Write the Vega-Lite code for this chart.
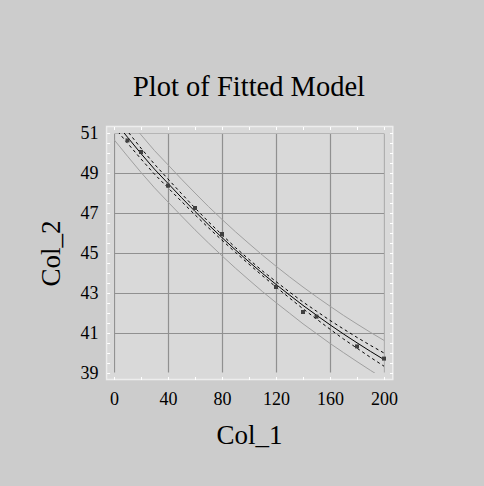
{
  "$schema": "https://vega.github.io/schema/vega-lite/v6.json",
  "width": 270,
  "height": 240,
  "autosize": {"type": "none"},
  "padding": {"left": 114, "top": 133, "right": 100, "bottom": 113},
  "background": "#cccccc",
  "view": {"fill": "#d9d9d9", "stroke": null},
  "title": {"text": "Plot of Fitted Model", "font": "Liberation Serif", "fontSize": 28.5, "fontWeight": "normal", "color": "#000000", "anchor": "middle", "frame": "group", "baseline": "alphabetic", "offset": 0},
  "datasets": {
    "curve": [
      {"x": 0, "fit": 51.63, "lcl": 51.30, "ucl": 51.96, "lpl": 50.67, "upl": 52.59},
      {"x": 10, "fit": 50.79, "lcl": 50.49, "ucl": 51.09, "lpl": 49.84, "upl": 51.74},
      {"x": 20, "fit": 49.97, "lcl": 49.70, "ucl": 50.24, "lpl": 49.03, "upl": 50.91},
      {"x": 30, "fit": 49.19, "lcl": 48.94, "ucl": 49.44, "lpl": 48.26, "upl": 50.12},
      {"x": 40, "fit": 48.48, "lcl": 48.26, "ucl": 48.70, "lpl": 47.55, "upl": 49.41},
      {"x": 50, "fit": 47.77, "lcl": 47.58, "ucl": 47.97, "lpl": 46.85, "upl": 48.69},
      {"x": 60, "fit": 47.08, "lcl": 46.91, "ucl": 47.25, "lpl": 46.16, "upl": 48.00},
      {"x": 70, "fit": 46.41, "lcl": 46.26, "ucl": 46.56, "lpl": 45.50, "upl": 47.32},
      {"x": 80, "fit": 45.77, "lcl": 45.64, "ucl": 45.91, "lpl": 44.86, "upl": 46.68},
      {"x": 90, "fit": 45.15, "lcl": 45.03, "ucl": 45.27, "lpl": 44.24, "upl": 46.06},
      {"x": 100, "fit": 44.56, "lcl": 44.44, "ucl": 44.68, "lpl": 43.65, "upl": 45.47},
      {"x": 110, "fit": 43.98, "lcl": 43.86, "ucl": 44.10, "lpl": 43.07, "upl": 44.89},
      {"x": 120, "fit": 43.43, "lcl": 43.30, "ucl": 43.57, "lpl": 42.52, "upl": 44.34},
      {"x": 130, "fit": 42.90, "lcl": 42.75, "ucl": 43.05, "lpl": 41.99, "upl": 43.81},
      {"x": 140, "fit": 42.38, "lcl": 42.21, "ucl": 42.55, "lpl": 41.46, "upl": 43.30},
      {"x": 150, "fit": 41.89, "lcl": 41.70, "ucl": 42.09, "lpl": 40.97, "upl": 42.81},
      {"x": 160, "fit": 41.41, "lcl": 41.19, "ucl": 41.63, "lpl": 40.48, "upl": 42.34},
      {"x": 170, "fit": 40.95, "lcl": 40.70, "ucl": 41.20, "lpl": 40.02, "upl": 41.88},
      {"x": 180, "fit": 40.51, "lcl": 40.24, "ucl": 40.78, "lpl": 39.57, "upl": 41.45},
      {"x": 190, "fit": 40.08, "lcl": 39.78, "ucl": 40.38, "lpl": 39.13, "upl": 41.03},
      {"x": 200, "fit": 39.67, "lcl": 39.34, "ucl": 40.00, "lpl": 38.71, "upl": 40.63}
    ],
    "obs": [
      {"x": 10, "y": 50.63},
      {"x": 20, "y": 50.05},
      {"x": 40, "y": 48.37},
      {"x": 60, "y": 47.25},
      {"x": 80, "y": 45.95},
      {"x": 120, "y": 43.30},
      {"x": 140, "y": 42.05},
      {"x": 150, "y": 41.82},
      {"x": 180, "y": 40.33},
      {"x": 200, "y": 39.72}
    ]
  },
  "resolve": {"axis": {"x": "independent", "y": "independent"}},
  "layer": [
    {
      "data": {"values": [{}]},
      "mark": {"type": "rect", "filled": false, "stroke": "#d9d9d9", "strokeWidth": 7.5},
      "encoding": {
        "x": {"datum": -2.75, "type": "quantitative", "scale": {"domain": [0, 200], "nice": false, "zero": false}, "axis": null},
        "x2": {"datum": 203.2},
        "y": {"datum": 38.84, "type": "quantitative", "scale": {"domain": [39, 51], "nice": false, "zero": false}, "axis": null},
        "y2": {"datum": 51.165}
      }
    },
    {
      "data": {"values": [{}]},
      "mark": {"type": "rect", "filled": false, "stroke": "#ededed", "strokeWidth": 1.5},
      "encoding": {
        "x": {"datum": -5.5, "type": "quantitative", "scale": {"domain": [0, 200], "nice": false, "zero": false}, "axis": null},
        "x2": {"datum": 206.5},
        "y": {"datum": 38.67, "type": "quantitative", "scale": {"domain": [39, 51], "nice": false, "zero": false}, "axis": null},
        "y2": {"datum": 51.33}
      }
    },
    {
      "data": {"name": "curve"},
      "mark": {"type": "line", "clip": true, "color": "#a0a0a0", "strokeWidth": 1},
      "encoding": {
        "x": {"field": "x", "type": "quantitative", "scale": {"domain": [0, 200], "nice": false, "zero": false}, "axis": null},
        "y": {"field": "lpl", "type": "quantitative", "scale": {"domain": [39, 51], "nice": false, "zero": false}, "axis": null}
      }
    },
    {
      "data": {"name": "curve"},
      "mark": {"type": "line", "clip": true, "color": "#a0a0a0", "strokeWidth": 1},
      "encoding": {
        "x": {"field": "x", "type": "quantitative", "scale": {"domain": [0, 200], "nice": false, "zero": false}, "axis": null},
        "y": {"field": "upl", "type": "quantitative", "scale": {"domain": [39, 51], "nice": false, "zero": false}, "axis": null}
      }
    },
    {
      "data": {"name": "curve"},
      "mark": {"type": "line", "clip": true, "color": "#000000", "strokeWidth": 1, "strokeDash": [3, 3]},
      "encoding": {
        "x": {"field": "x", "type": "quantitative", "scale": {"domain": [0, 200], "nice": false, "zero": false},
          "axis": {"orient": "top", "values": [0, 20, 40, 60, 80, 100, 120, 140, 160, 180, 200], "labels": false, "domain": false, "grid": false, "ticks": true, "tickColor": "#ffffff", "tickSize": -3, "tickWidth": 1, "offset": 6.5, "title": null, "zindex": 1}},
        "y": {"field": "lcl", "type": "quantitative", "scale": {"domain": [39, 51], "nice": false, "zero": false},
          "axis": {"orient": "right", "values": [39, 39.5, 40, 40.5, 41, 41.5, 42, 42.5, 43, 43.5, 44, 44.5, 45, 45.5, 46, 46.5, 47, 47.5, 48, 48.5, 49, 49.5, 50, 50.5, 51], "labels": false, "domain": false, "grid": false, "ticks": true, "tickColor": "#ffffff", "tickSize": -3, "tickWidth": 1, "offset": 8.5, "title": null, "zindex": 1}}
      }
    },
    {
      "data": {"name": "curve"},
      "mark": {"type": "line", "clip": true, "color": "#000000", "strokeWidth": 1, "strokeDash": [3, 3]},
      "encoding": {
        "x": {"field": "x", "type": "quantitative", "scale": {"domain": [0, 200], "nice": false, "zero": false},
          "axis": {"orient": "bottom", "values": [0, 20, 40, 60, 80, 100, 120, 140, 160, 180, 200], "labels": false, "domain": false, "grid": false, "ticks": true, "tickColor": "#ffffff", "tickSize": -3, "tickWidth": 1, "offset": 6.5, "title": null, "zindex": 1}},
        "y": {"field": "ucl", "type": "quantitative", "scale": {"domain": [39, 51], "nice": false, "zero": false},
          "axis": {"orient": "left", "values": [39, 39.5, 40, 40.5, 41, 41.5, 42, 42.5, 43, 43.5, 44, 44.5, 45, 45.5, 46, 46.5, 47, 47.5, 48, 48.5, 49, 49.5, 50, 50.5, 51], "labels": false, "domain": false, "grid": false, "ticks": true, "tickColor": "#ffffff", "tickSize": -3, "tickWidth": 1, "offset": 7.4, "title": null, "zindex": 1}}
      }
    },
    {
      "data": {"name": "curve"},
      "mark": {"type": "line", "clip": true, "color": "#000000", "strokeWidth": 1},
      "encoding": {
        "x": {"field": "x", "type": "quantitative", "scale": {"domain": [0, 200], "nice": false, "zero": false},
          "axis": {"orient": "bottom", "values": [0, 40, 80, 120, 160, 200], "grid": false, "ticks": false, "tickSize": 0, "domain": false, "labelFont": "Liberation Serif", "labelFontSize": 18, "labelColor": "#000000", "labelBaseline": "alphabetic", "labelPadding": 31, "labelFlush": false, "labelOverlap": false, "title": "Col_1", "titleFont": "Liberation Serif", "titleFontSize": 27, "titleFontWeight": "normal", "titleColor": "#000000", "titleBaseline": "alphabetic", "titleX": 135, "titleY": 70}},
        "y": {"field": "fit", "type": "quantitative", "scale": {"domain": [39, 51], "nice": false, "zero": false},
          "axis": {"orient": "left", "values": [39, 41, 43, 45, 47, 49, 51], "grid": false, "ticks": false, "tickSize": 0, "domain": false, "labelFont": "Liberation Serif", "labelFontSize": 18, "labelColor": "#000000", "labelBaseline": "middle", "labelPadding": 16, "labelFlush": false, "labelOverlap": false, "title": "Col_2", "titleFont": "Liberation Serif", "titleFontSize": 27, "titleFontWeight": "normal", "titleColor": "#000000", "titleBaseline": "alphabetic", "titleAngle": -90, "titleX": -55, "titleY": 120}}
      }
    },
    {
      "data": {"name": "obs"},
      "mark": {"type": "point", "shape": "square", "filled": true, "size": 16, "color": "#404040", "opacity": 1},
      "encoding": {
        "x": {"field": "x", "type": "quantitative", "scale": {"domain": [0, 200], "nice": false, "zero": false},
          "axis": {"orient": "bottom", "values": [0, 40, 80, 120, 160, 200], "grid": true, "gridColor": "#909090", "gridWidth": 1.2, "gridOpacity": 1, "labels": false, "ticks": false, "domain": false, "title": null}},
        "y": {"field": "y", "type": "quantitative", "scale": {"domain": [39, 51], "nice": false, "zero": false},
          "axis": {"orient": "left", "values": [39, 41, 43, 45, 47, 49, 51], "grid": true, "gridColor": "#909090", "gridWidth": 1.2, "gridOpacity": 1, "labels": false, "ticks": false, "domain": false, "title": null}}
      }
    }
  ]
}
